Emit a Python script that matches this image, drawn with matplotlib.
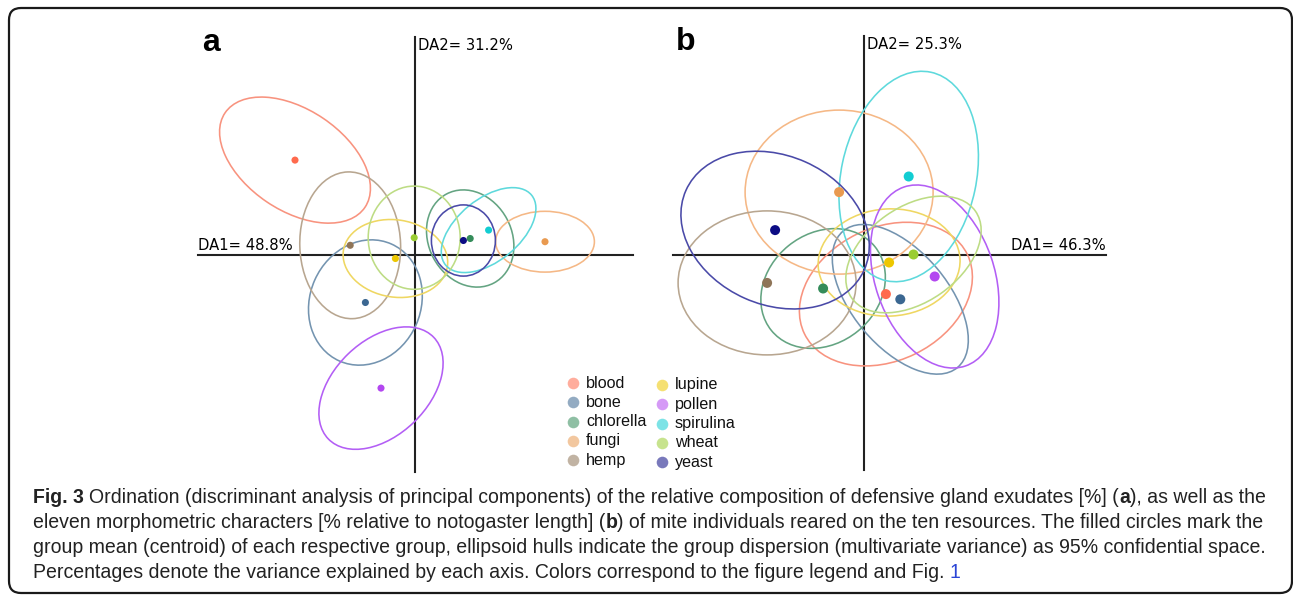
'''
Ordinación DAPC - dos paneles (a: exudados, b: morfometría)
'''
import matplotlib
matplotlib.use("Agg")
import matplotlib.pyplot as plt
from matplotlib.patches import Ellipse, FancyBboxPatch
from matplotlib import font_manager

#--------------------------Datos-----------------------------------------------
grupos = ["blood", "bone", "chlorella", "fungi", "hemp",
          "lupine", "pollen", "spirulina", "wheat", "yeast"]

# color de la elipse, color del centroide
col_elipse = ["#f8937f", "#7494b0", "#64a482", "#f5b886", "#b8a690",
              "#efd762", "#b35ef5", "#5ed9dc", "#bddc84", "#4a4aa8"]
col_centro = ["#ff6a4d", "#3b6791", "#348c5a", "#e99a50", "#8f7558",
              "#edc700", "#b347f0", "#12cdd2", "#9acd32", "#0c0c84"]

# Panel a (composición de exudados)
a_cx = [-3.00, -1.24, 1.38, 3.25, -1.62, -0.49, -0.85, 1.84, -0.02, 1.21]
a_cy = [2.38, -1.18, 0.42, 0.34, 0.25, -0.08, -3.32, 0.63, 0.44, 0.37]
a_ancho = [4.22, 3.20, 2.52, 2.47, 2.52, 2.63, 3.66, 2.77, 2.30, 1.60]
a_alto = [2.52, 2.77, 2.08, 1.52, 3.67, 1.93, 2.37, 1.56, 2.58, 1.78]
a_angulo = [-34, 66, -62, 0, 2, -9, 44, 39, 0, 0]
a_var = [48.8, 31.2]

# Panel b (caracteres morfométricos)
b_cx = [0.54, 0.90, -1.03, -0.63, -2.43, 0.62, 1.76, 1.11, 1.23, -2.23]
b_cy = [-0.97, -1.10, -0.83, 1.58, -0.69, -0.18, -0.53, 1.97, 0.02, 0.63]
b_ancho = [4.53, 4.45, 3.33, 4.70, 4.45, 3.55, 2.98, 3.38, 3.78, 4.88]
b_alto = [3.33, 2.40, 2.75, 4.10, 3.60, 2.68, 4.73, 5.33, 2.38, 3.73]
b_angulo = [26, -50, 39, 0, 0, 3, 19, -12, 35, -24]
b_var = [46.3, 25.3]

pie = [
    [("Fig. 3", "bold", "#222222"),
     (" Ordination (discriminant analysis of principal components) of the relative "
      "composition of defensive gland exudates [%] (", "normal", "#222222"),
     ("a", "bold", "#222222"), ("), as well as the", "normal", "#222222")],
    [("eleven morphometric characters [% relative to notogaster length] (", "normal", "#222222"),
     ("b", "bold", "#222222"),
     (") of mite individuals reared on the ten resources. The filled circles mark the",
      "normal", "#222222")],
    [("group mean (centroid) of each respective group, ellipsoid hulls indicate the group "
      "dispersion (multivariate variance) as 95% confidential space.", "normal", "#222222")],
    [("Percentages denote the variance explained by each axis. Colors correspond to the "
      "figure legend and Fig. ", "normal", "#222222"), ("1", "normal", "#2b45d6")],
]

#--------------------------Figura-----------------------------------------------
W, H = 1293, 597
ESC = 40.0  # pixeles por unidad DA
fig = plt.figure(figsize=(W / 100, H / 100), dpi=100)
fondo = fig.add_axes([0, 0, 1, 1])
fondo.set_xlim(0, W)
fondo.set_ylim(H, 0)
fondo.axis("off")

fondo.add_patch(FancyBboxPatch((9, 8), 1283, 585, boxstyle="round,pad=0,rounding_size=12",
                               fill=False, ec="#1a1a1a", lw=1.6))


def panel(x0, y0, x1, y1, ox, oy, ejes, cx, cy, ancho, alto, ang, var, letra, tam, da1_der):
    ax = fig.add_axes([x0 / W, 1 - y1 / H, (x1 - x0) / W, (y1 - y0) / H])
    ax.set_xlim((x0 - ox) / ESC, (x1 - ox) / ESC)
    ax.set_ylim((oy - y1) / ESC, (oy - y0) / ESC)
    ax.axis("off")
    xa, xb, ya, yb = ejes
    ax.plot([xa, xb], [0, 0], color="#222222", lw=1.5, zorder=1)
    ax.plot([0, 0], [ya, yb], color="#222222", lw=1.5, zorder=1)
    for i in range(len(grupos)):
        ax.add_patch(Ellipse((cx[i], cy[i]), ancho[i], alto[i], angle=ang[i],
                             fill=False, ec=col_elipse[i], lw=1.15, zorder=2))
    ax.scatter(cx, cy, s=tam, c=col_centro, zorder=3, linewidths=0)
    ax.text(0.07, yb - 0.03, f"DA2= {var[1]}%", fontsize=10.6, va="top", ha="left")
    if da1_der:
        ax.text(xb, 0.07, f"DA1= {var[0]}%", fontsize=10.6, va="bottom", ha="right")
    else:
        ax.text(xa, 0.07, f"DA1= {var[0]}%", fontsize=10.6, va="bottom", ha="left")
    fondo.text(letra[1], letra[2], letra[0], fontsize=23, fontweight="bold",
               family="Liberation Sans", va="center", ha="left")
    return ax


panel(190, 20, 650, 480, 415, 255.3, (-5.425, 5.45, -5.405, 5.4575),
      a_cx, a_cy, a_ancho, a_alto, a_angulo, a_var, ("a", 202, 43), 26, False)
panel(660, 20, 1120, 480, 864.3, 255.3, (-4.79, 6.035, -5.37, 5.48),
      b_cx, b_cy, b_ancho, b_alto, b_angulo, b_var, ("b", 676, 42), 52, True)

# leyenda (dos columnas)
for i, g in enumerate(grupos):
    col, fila = divmod(i, 5)
    xd = 573 + 89 * col
    yd = 383 + 2 * col + 19.3 * fila
    fondo.scatter([xd], [yd], s=70, c=col_centro[i], alpha=0.55, linewidths=0)
    fondo.text(xd + 13, yd, g, fontsize=11.6, family="Liberation Sans",
               va="center", ha="left", color="#111111")

#--------------------------Pie de figura----------------------------------------
nombres = {f.name for f in font_manager.fontManager.ttflist}
fuente = "Liberation Sans Narrow" if "Liberation Sans Narrow" in nombres else "Liberation Sans"
rend = fig.canvas.get_renderer()


def ancho_txt(s, peso, tam):
    t = fondo.text(0, 0, s, fontsize=tam, family=fuente, fontweight=peso)
    w = t.get_window_extent(rend).width
    t.remove()
    return w


def escribir(linea, y, tam, dibujar=True):
    x = 33.0
    esp = ancho_txt("x x", "normal", tam) - ancho_txt("xx", "normal", tam)
    for s, peso, c in linea:
        x += (len(s) - len(s.lstrip(" "))) * esp
        s2 = s.strip(" ")
        if dibujar:
            fondo.text(x, y, s2, fontsize=tam, family=fuente, fontweight=peso,
                       color=c, va="baseline", ha="left")
        x += ancho_txt(s2, peso, tam)
        x += (len(s) - len(s.rstrip(" "))) * esp
    return x - 33.0


tam_pie = 12.0 * 1232.0 / escribir(pie[0], 0, 12.0, dibujar=False)
for k, linea in enumerate(pie):
    escribir(linea, 503 + 25 * k, tam_pie)

fig.savefig("out.png", dpi=100)
